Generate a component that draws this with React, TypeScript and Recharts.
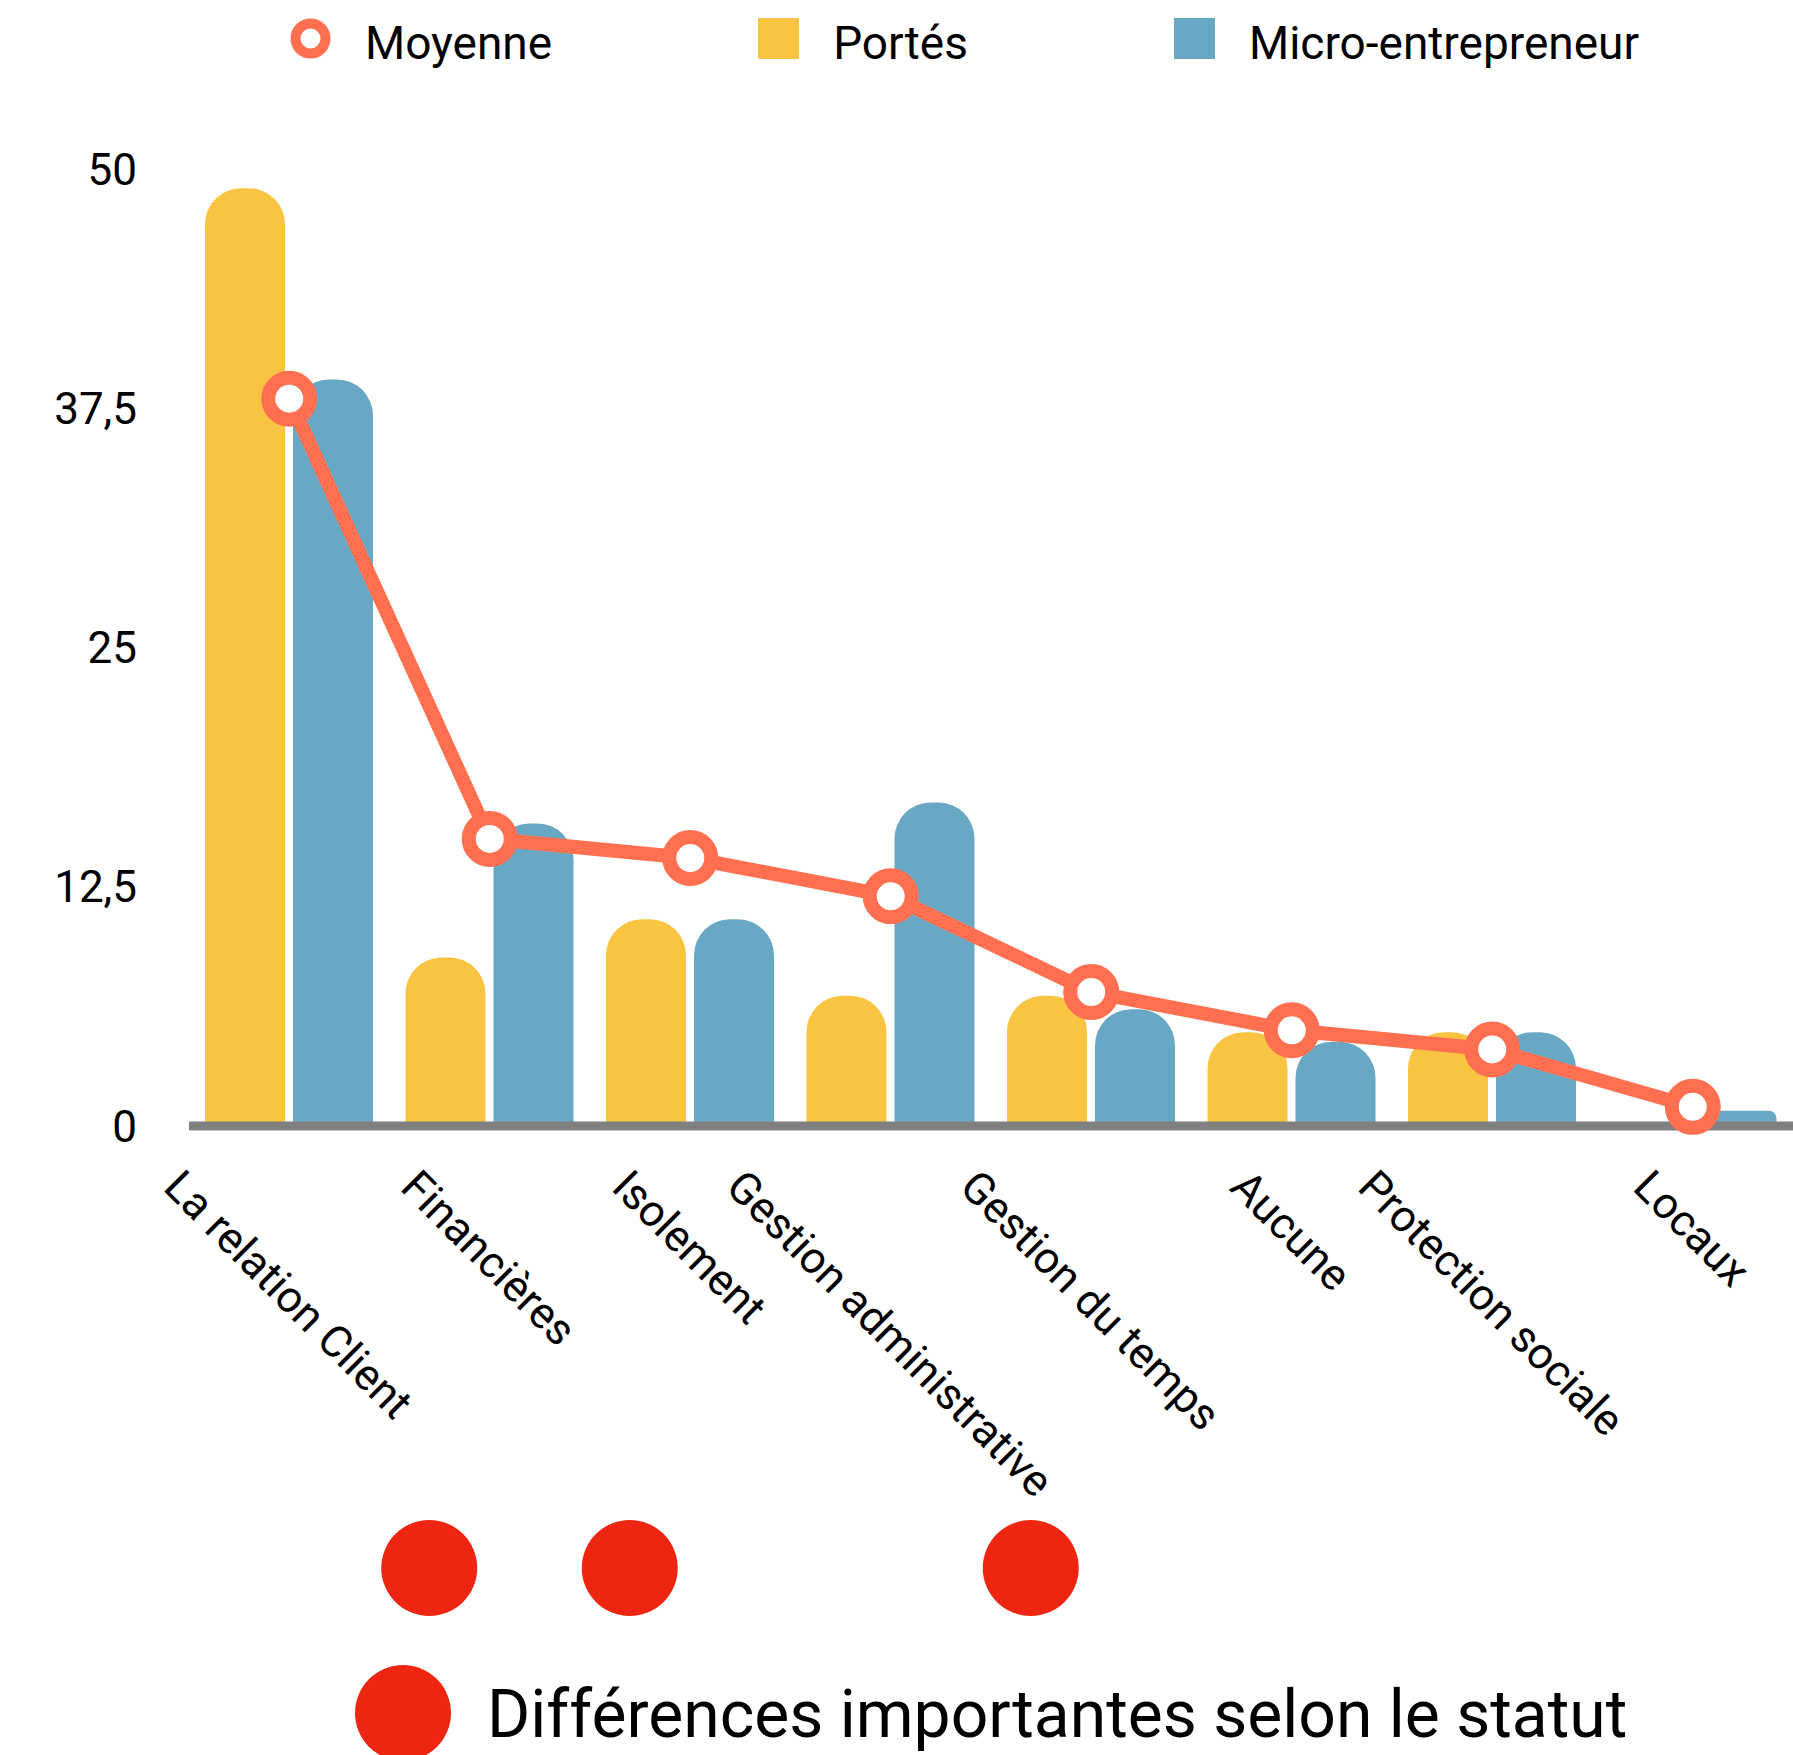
import React from "react";
import { ComposedChart, Bar, Line, XAxis, YAxis, Legend } from "recharts";

// categories and values
const categories = [
  "La relation Client",
  "Financières",
  "Isolement",
  "Gestion administrative",
  "Gestion du temps",
  "Aucune",
  "Protection sociale",
  "Locaux",
];
const portes = [49, 8.8, 10.8, 6.8, 6.8, 4.9, 4.9, 0];
const micro = [39, 15.8, 10.8, 16.9, 6.1, 4.4, 4.9, 0.8];
const moyenne = [38, 15, 14, 12, 7, 5, 4, 1];
// categories flagged with a red dot
const differences = [true, true, false, true, false, false, false, false];
const yTicks = [0, 12.5, 25, 37.5, 50];

const YELLOW = "#F8C442";
const BLUE = "#68A8C4";
const CORAL = "#FF6F50";
const RED = "#EE2511";
const FONT = "Roboto";
const TICK_SIZE = 44;

const data = categories.map((name, i) => ({
  name,
  portes: portes[i],
  micro: micro[i],
  moyenne: moyenne[i],
}));

let ctx: CanvasRenderingContext2D | null = null;
function textWidth(text: string, font: string) {
  if (!ctx) ctx = document.createElement("canvas").getContext("2d");
  if (!ctx) return text.length * TICK_SIZE * 0.5;
  ctx.font = font;
  return ctx.measureText(text).width;
}

const CategoryTick = (props: any) => {
  const { x, y, payload } = props;
  const label = String(payload.value);
  const idx = categories.indexOf(label);
  const len = textWidth(label, `${TICK_SIZE}px ${FONT}`);
  const h = 32;
  // rotated label centred horizontally on its category
  const px = x - 0.354 * (len + h);
  const py = y + 63;
  return (
    <g>
      <text
        x={px}
        y={py}
        transform={`rotate(45 ${px} ${py})`}
        fontFamily={FONT}
        fontSize={TICK_SIZE}
        fill="#000"
      >
        {label}
      </text>
      {differences[idx] && <circle cx={x + 140} cy={y + 442} r={48} fill={RED} />}
    </g>
  );
};

const legendOrder = ["moyenne", "portes", "micro"];

const renderLegend = (props: any) => {
  const items = [...(props.payload || [])].sort(
    (a: any, b: any) => legendOrder.indexOf(a.dataKey) - legendOrder.indexOf(b.dataKey)
  );
  return (
    <div
      style={{
        display: "flex",
        alignItems: "center",
        height: 80,
        paddingLeft: 290,
        fontFamily: FONT,
        fontSize: 46,
        color: "#000",
        boxSizing: "border-box",
      }}
    >
      {items.map((it: any, i: number) => (
        <div
          key={it.dataKey}
          style={{ display: "flex", alignItems: "center", marginRight: i < items.length - 1 ? 206 : 0 }}
        >
          <svg width={41} height={41} style={{ marginTop: -4 }}>
            {it.dataKey === "moyenne" ? (
              <circle cx={20.5} cy={20.5} r={15} fill="#fff" stroke={CORAL} strokeWidth={10} />
            ) : (
              <rect x={0} y={0} width={41} height={41} fill={it.color} />
            )}
          </svg>
          <span style={{ marginLeft: 34, position: "relative", top: 3, lineHeight: "54px" }}>
            {it.value}
          </span>
        </div>
      ))}
    </div>
  );
};

export default function App() {
  return (
    <div
      style={{
        position: "relative",
        width: 1793,
        height: 1755,
        overflow: "hidden",
        background: "#fff",
      }}
    >
      <style>{"body{margin:0}"}</style>
      <ComposedChart
        width={1793}
        height={1755}
        data={data}
        margin={{ top: 89, right: 0, left: 0, bottom: 0 }}
        barSize={80}
        barGap={8}
      >
        <Legend
          verticalAlign="top"
          content={renderLegend}
          wrapperStyle={{ position: "absolute", top: 0, left: 0, width: 1793 }}
        />
        <XAxis
          dataKey="name"
          interval={0}
          height={629}
          tickLine={false}
          tickSize={0}
          tickMargin={0}
          axisLine={{ stroke: "#808080", strokeWidth: 9 }}
          tick={<CategoryTick />}
        />
        <YAxis
          domain={[0, 50]}
          ticks={yTicks}
          width={189}
          axisLine={false}
          tickLine={false}
          tickSize={0}
          tickMargin={52}
          tickFormatter={(v: number) => String(v).replace(".", ",")}
          tick={{ fontSize: 44, fill: "#000", fontFamily: FONT }}
        />
        <Bar dataKey="portes" name="Portés" fill={YELLOW} radius={[36, 36, 0, 0]} isAnimationActive={false} />
        <Bar dataKey="micro" name="Micro-entrepreneur" fill={BLUE} radius={[36, 36, 0, 0]} isAnimationActive={false} />
        <Line
          type="linear"
          dataKey="moyenne"
          name="Moyenne"
          stroke={CORAL}
          strokeWidth={14}
          dot={{ r: 21, fill: "#fff", stroke: CORAL, strokeWidth: 14 }}
          activeDot={false}
          isAnimationActive={false}
        />
      </ComposedChart>
      <svg
        width={1793}
        height={140}
        style={{ position: "absolute", left: 0, top: 1615 }}
      >
        <circle cx={403} cy={98} r={48} fill={RED} />
        <text x={487} y={122} fontFamily={FONT} fontSize={66} fill="#000">
          Différences importantes selon le statut
        </text>
      </svg>
    </div>
  );
}
